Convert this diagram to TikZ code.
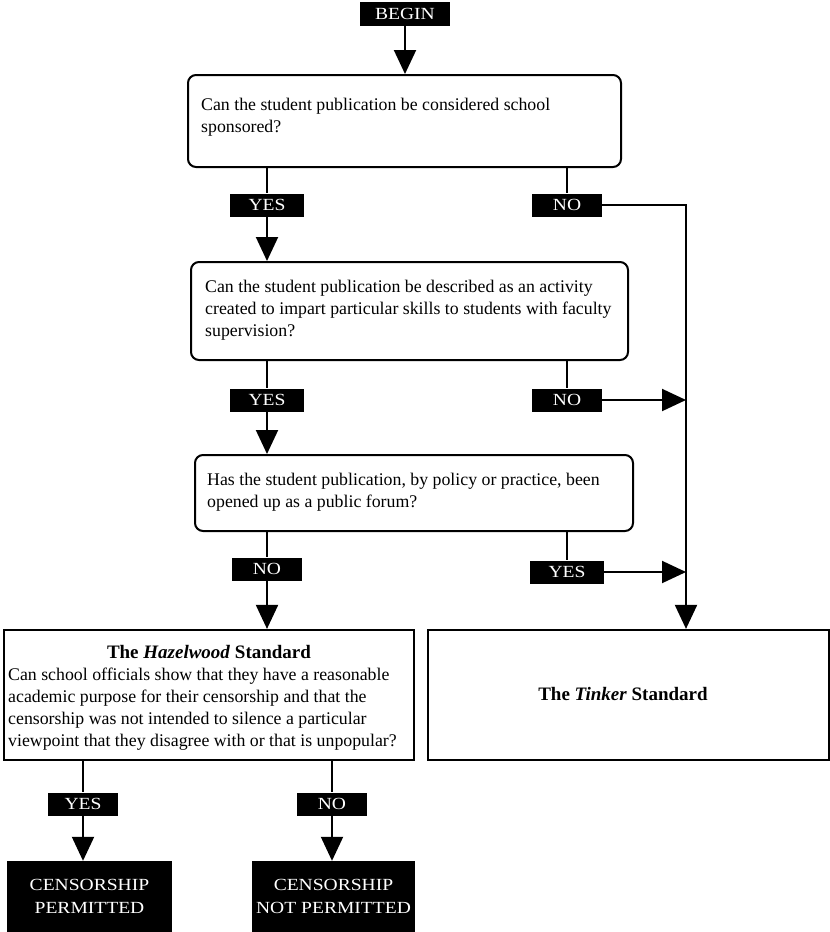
\documentclass[tikz,border=0pt]{standalone}
\usepackage{fontspec}
\setmainfont{Liberation Serif}
\newfontfamily\labfont[FakeStretch=1.15]{Liberation Serif}
\usetikzlibrary{arrows.meta}
\tikzset{
  qbox/.style={draw, line width=2pt, rounded corners=8pt, inner sep=0pt},
  sbox/.style={draw, line width=2.2pt, inner sep=0pt},
  lab/.style={fill=black, text=white, inner sep=0pt, minimum height=23pt, minimum width=72pt, font=\labfont\fontsize{17}{19}\selectfont},
  endbox/.style={fill=black, text=white, inner sep=0pt, align=center, font=\labfont\fontsize{17}{23}\selectfont},
  qtext/.style={inner sep=0pt, align=left, anchor=north west, font=\fontsize{17.8}{22}\selectfont},
  ttl/.style={inner sep=0pt, font=\fontsize{19}{22}\selectfont\bfseries},
  conn/.style={line width=2pt},
  arr/.style={line width=2pt, -{Triangle[length=24pt,width=22pt]}}
}
\begin{document}
\begin{tikzpicture}[x=1pt,y=-1pt]
\useasboundingbox (0,0) rectangle (830,932);
% begin
\node[lab, minimum width=90pt, minimum height=24pt] (begin) at (405,14) {BEGIN};
% question boxes
\node[qbox, minimum width=433pt, minimum height=92pt] (q1) at (404.5,121) {};
\node[qtext] (t1) at (201,98) {Can the student publication be considered school\\sponsored?};
\node[qbox, minimum width=437pt, minimum height=98pt] (q2) at (409.5,311) {};
\node[qtext] (t2) at (205,280) {Can the student publication be described as an activity\\created to impart particular skills to students with faculty\\supervision?};
\node[qbox, minimum width=438pt, minimum height=76pt] (q3) at (414,493) {};
\node[qtext] (t3) at (207,473) {Has the student publication, by policy or practice, been\\opened up as a public forum?};
% standards
\node[sbox, minimum width=410pt, minimum height=130pt] (haz) at (209,695) {};
\node[ttl] (hazt) at (209,652) {The \textit{Hazelwood} Standard};
\node[qtext] (hazb) at (8,668) {Can school officials show that they have a reasonable\\academic purpose for their censorship and that the\\censorship was not intended to silence a particular\\viewpoint that they disagree with or that is unpopular?};
\node[sbox, minimum width=401pt, minimum height=130pt] (tink) at (628.5,695) {};
\node[ttl] (tinkt) at (623,694) {The \textit{Tinker} Standard};
% outcomes
\node[endbox, minimum width=165pt, minimum height=71pt] (cp) at (89.5,896.5) {CENSORSHIP\\PERMITTED};
\node[endbox, minimum width=163pt, minimum height=71pt] (cnp) at (333.5,896.5) {CENSORSHIP\\NOT PERMITTED};
% labels
\node[lab, minimum width=74pt] (yes1) at (267,205) {YES};
\node[lab, minimum width=70pt] (no1) at (567,205) {NO};
\node[lab, minimum width=74pt] (yes2) at (267,400) {YES};
\node[lab, minimum width=70pt] (no2) at (567,400) {NO};
\node[lab, minimum width=70pt] (no3) at (267,569) {NO};
\node[lab, minimum width=74pt] (yes3) at (567,572) {YES};
\node[lab, minimum width=70pt] (yes4) at (83,804) {YES};
\node[lab, minimum width=70pt] (no4) at (332,804) {NO};
\coordinate (rx) at (686,205);
% connectors
\draw[arr] (begin.south) -- (begin.south |- q1.north);
\draw[conn] (yes1.north |- q1.south) -- (yes1.north);
\draw[arr] (yes1.south) -- (yes1.south |- q2.north);
\draw[conn] (no1.north |- q1.south) -- (no1.north);
\draw[arr] (no1.east) -- (rx) -- (rx |- tink.north);
\draw[conn] (yes2.north |- q2.south) -- (yes2.north);
\draw[arr] (yes2.south) -- (yes2.south |- q3.north);
\draw[conn] (no2.north |- q2.south) -- (no2.north);
\draw[arr] (no2.east) -- (no2.east -| rx);
\draw[conn] (no3.north |- q3.south) -- (no3.north);
\draw[arr] (no3.south) -- (no3.south |- haz.north);
\draw[conn] (yes3.north |- q3.south) -- (yes3.north);
\draw[arr] (yes3.east) -- (yes3.east -| rx);
\draw[conn] (yes4.north |- haz.south) -- (yes4.north);
\draw[arr] (yes4.south) -- (yes4.south |- cp.north);
\draw[conn] (no4.north |- haz.south) -- (no4.north);
\draw[arr] (no4.south) -- (no4.south |- cnp.north);
\end{tikzpicture}
\end{document}
